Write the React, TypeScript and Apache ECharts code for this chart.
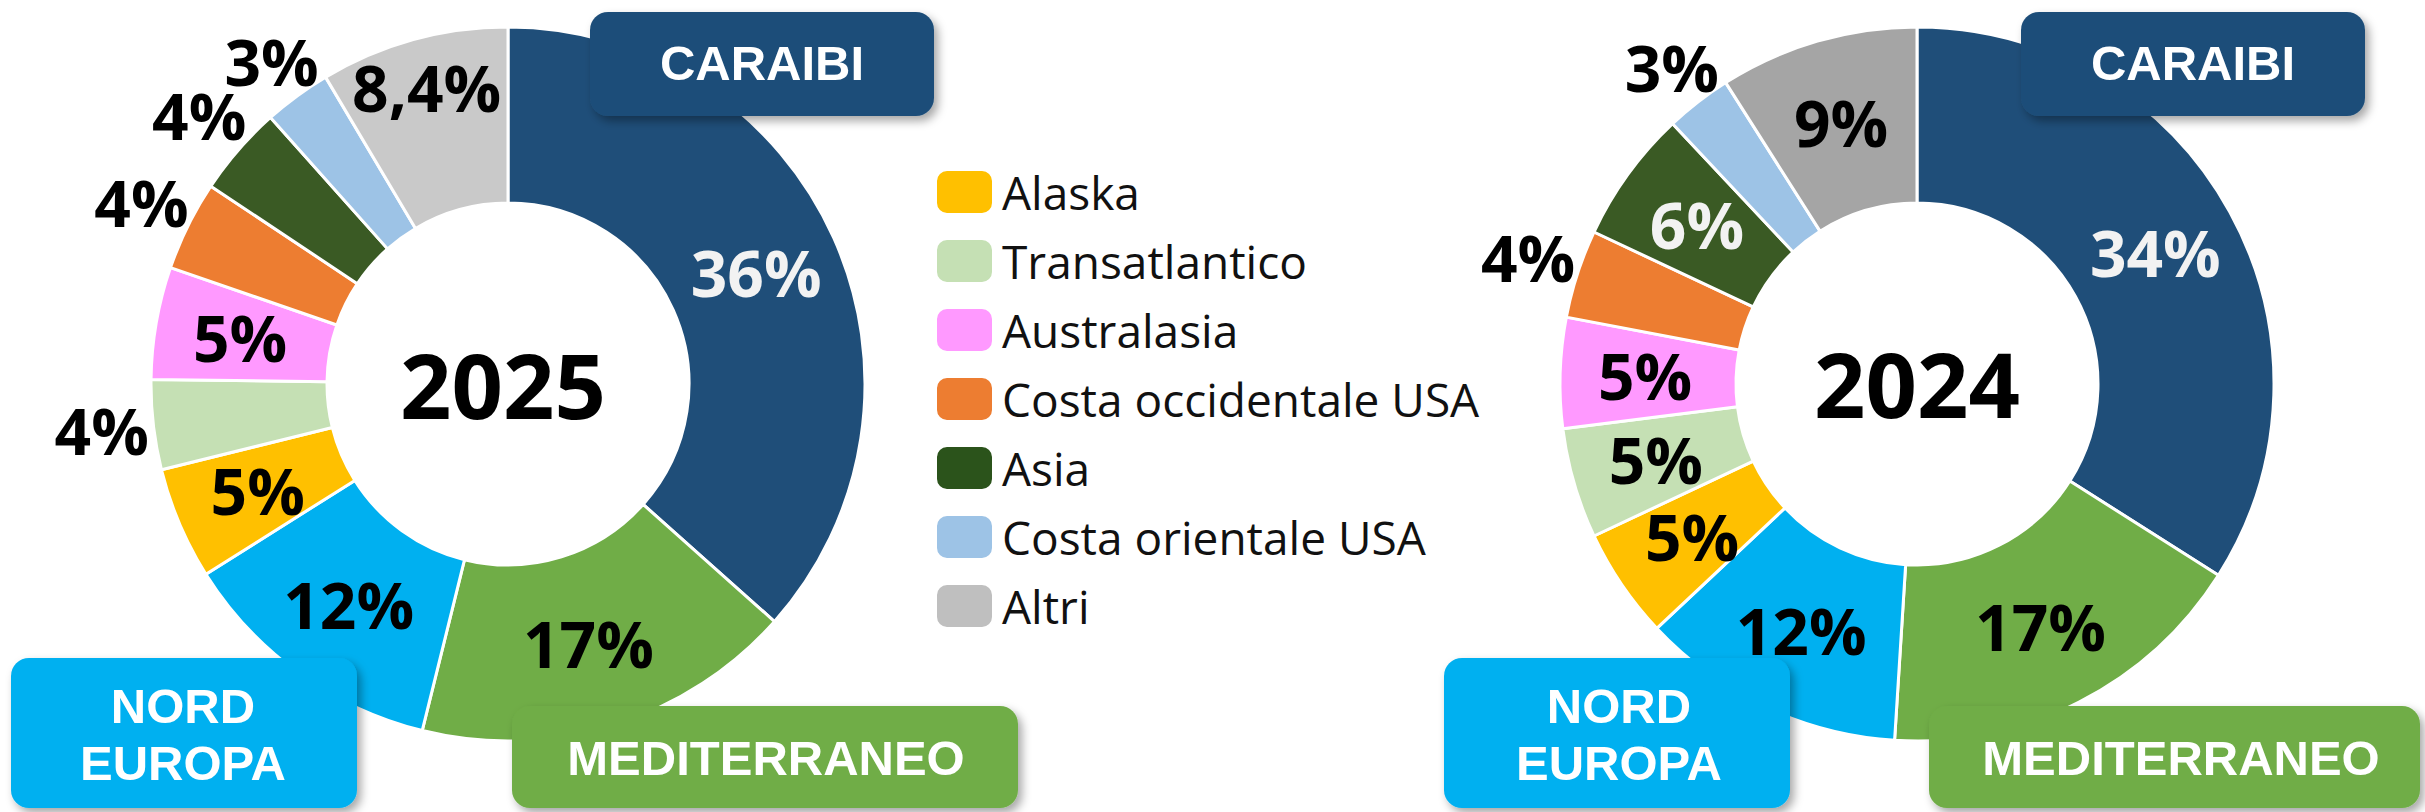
import React, { useEffect, useRef } from 'react';
import * as echarts from 'echarts';

// ---- data ----
const categories = [
  'Caraibi',
  'Mediterraneo',
  'Nord Europa',
  'Alaska',
  'Transatlantico',
  'Australasia',
  'Costa occidentale USA',
  'Asia',
  'Costa orientale USA',
  'Altri',
];
const values2025 = [36, 17, 12, 5, 4, 5, 4, 4, 3, 8.4];
const values2024 = [34, 17, 12, 5, 5, 5, 4, 6, 3, 9];
const years = ['2025', '2024'];
const legendNames = ['Alaska', 'Transatlantico', 'Australasia', 'Costa occidentale USA', 'Asia', 'Costa orientale USA', 'Altri'];
const boxLabels = ['CARAIBI', 'NORD\nEUROPA', 'MEDITERRANEO'];

// ---- styles ----
const FONT = '"Open Sans", "Noto Sans", sans-serif';
const BOX_FONT = '"Liberation Sans", Arial, sans-serif';
const baseColors = ['#1F4E79', '#70AD47', '#00B0F0', '#FFC000', '#C5E0B4', '#FF99FF', '#ED7D31', '#3A5A24', '#9DC3E6'];
const colors2025 = [...baseColors, '#C9C9C9'];
const colors2024 = [...baseColors, '#A5A5A5'];
const legendColors = ['#FFC000', '#C5E0B4', '#FF99FF', '#ED7D31', '#2B531B', '#9DC3E6', '#BFBFBF'];
const boxColors = ['#1F4E79', '#00B0F0', '#70AD47'];

// label placement per slice
const place2025 = ['in', 'in', 'in', 'in', 'out', 'in', 'out', 'out', 'out2', 'mid'];
const place2024 = ['in', 'in', 'in', 'in', 'in', 'in', 'out', 'in', 'out2', 'in'];
const light2025 = [0];
const light2024 = [0, 7];

const fmt = (p: any) => String(p.value).replace('.', ',') + '%';

function donut(center: number[], values: number[], colors: string[], place: string[], light: number[]) {
  const lbl = (i: number, key: string) => ({
    show: place[i] === key,
    position: 'inside',
    formatter: fmt,
    color: light.includes(i) ? '#F2F2F2' : '#000000',
    fontSize: 64,
    lineHeight: 52,
    fontWeight: 'bold',
    fontFamily: FONT,
  });
  const common = {
    type: 'pie',
    center,
    startAngle: 90,
    clockwise: true,
    silent: true,
    avoidLabelOverlap: false,
    labelLayout: { hideOverlap: false },
    labelLine: { show: false },
    emphasis: { disabled: true },
  };
  const main = {
    ...common,
    radius: [181, 357],
    z: 2,
    itemStyle: { borderColor: '#ffffff', borderWidth: 3 },
    data: values.map((v, i) => ({ name: categories[i], value: v, itemStyle: { color: colors[i] }, label: lbl(i, 'in') })),
  };
  const ring = (radius: number[], key: string) => ({
    ...common,
    radius,
    z: 3,
    itemStyle: { color: 'rgba(0,0,0,0)', borderWidth: 0 },
    data: values.map((v, i) => ({ name: categories[i], value: v, label: lbl(i, key) })),
  });
  return [main, ring([357, 455], 'out'), ring([357, 437], 'out2'), ring([251, 357], 'mid')];
}

function box(x: number, y: number, w: number, h: number, fill: string, text: string, tx: number, ty: number) {
  const lines = text.split('\n');
  const lh = 57;
  const y0 = ty - ((lines.length - 1) * lh) / 2;
  return [
    {
      type: 'rect',
      z: 100,
      shape: { x, y, width: w, height: h, r: 18 },
      style: {
        fill,
        shadowBlur: 10,
        shadowOffsetX: 4,
        shadowOffsetY: 5,
        shadowColor: 'rgba(0,0,0,0.35)',
      },
    },
    ...lines.map((t, k) => ({
      type: 'text',
      z: 101,
      x: tx,
      y: y0 + k * lh,
      style: {
        text: t,
        fill: '#ffffff',
        font: `bold 49px ${BOX_FONT}`,
        lineHeight: 50,
        align: 'center',
        verticalAlign: 'middle',
        textAlign: 'center',
        textVerticalAlign: 'middle',
      },
    })),
  ];
}

function yearText(x: number, y: number, text: string) {
  return {
    type: 'text',
    z: 101,
    x,
    y,
    style: {
      text,
      fill: '#000000',
      font: `bold 90px ${FONT}`,
      align: 'center',
      verticalAlign: 'middle',
      textAlign: 'center',
      textVerticalAlign: 'middle',
    },
  };
}

export default function App() {
  const ref = useRef<HTMLDivElement>(null);
  useEffect(() => {
    document.body.style.margin = '0';
    const chart = echarts.init(ref.current!, undefined, { renderer: 'svg' });
    chart.setOption({
      animation: false,
      backgroundColor: '#ffffff',
      legend: {
        orient: 'vertical',
        left: 930,
        top: 164,
        itemWidth: 57,
        itemHeight: 44,
        itemGap: 23,
        icon: 'roundRect',
        selectedMode: false,
        data: legendNames.map((n, i) => ({ name: n, itemStyle: { color: legendColors[i] } })),
        textStyle: { fontSize: 46, fontFamily: FONT, color: '#111111', lineHeight: 44, padding: [0, 0, 0, 4] },
      },
      series: [
        ...donut([508, 384], values2025, colors2025, place2025, light2025),
        ...donut([1917, 384], values2024, colors2024, place2024, light2024),
      ],
      graphic: [
        yearText(503, 384, years[0]),
        yearText(1917, 383, years[1]),
        ...box(590, 12, 344, 104, boxColors[0], boxLabels[0], 762, 63),
        ...box(11, 658, 346, 150, boxColors[1], boxLabels[1], 183, 734),
        ...box(512, 706, 506, 102, boxColors[2], boxLabels[2], 766, 758),
        ...box(2021, 12, 344, 104, boxColors[0], boxLabels[0], 2193, 63),
        ...box(1444, 658, 346, 150, boxColors[1], boxLabels[1], 1619, 734),
        ...box(1929, 706, 491, 102, boxColors[2], boxLabels[2], 2181, 758),
      ],
    });
    return () => chart.dispose();
  }, []);
  return <div ref={ref} style={{ width: 2425, height: 812, position: 'absolute', left: 0, top: 0 }} />;
}
